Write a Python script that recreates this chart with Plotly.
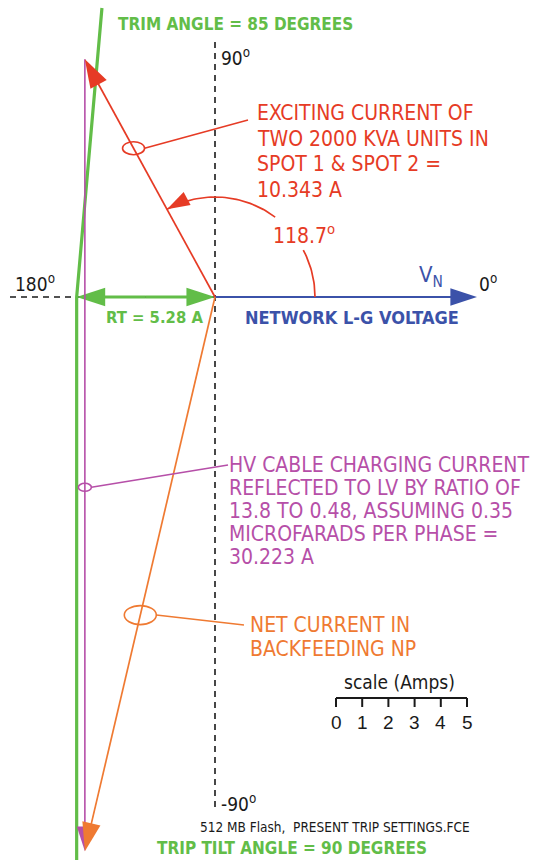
import math
import plotly.graph_objects as go

# ---------------- data (amps / degrees) ----------------
RT_AMPS = 5.28            # relay trip setting
EXC_AMPS = 10.343         # exciting current of two 2000 kVA units
EXC_ANGLE = 118.7         # degrees
CABLE_AMPS = 30.223       # HV cable charging current reflected to LV
CABLE_ANGLE = -90.0       # degrees
TRIM_ANGLE = 85.0         # degrees
TILT_ANGLE = 90.0         # degrees
VN_LENGTH = 10.0          # reference phasor length (drawing units)
SCALE_TICKS = [0, 1, 2, 3, 4, 5]

RED_LINES = ["EXCITING CURRENT OF", "TWO 2000 KVA UNITS IN", "SPOT 1 & SPOT 2 =", "10.343 A"]
PURPLE_LINES = ["HV CABLE CHARGING CURRENT", "REFLECTED TO LV BY RATIO OF",
                "13.8 TO 0.48, ASSUMING 0.35", "MICROFARADS PER PHASE =", "30.223 A"]
ORANGE_LINES = ["NET CURRENT IN", "BACKFEEDING NP"]

# ---------------- geometry / style ----------------
W, H = 543, 860
PPA = 26.2                 # pixels per amp
OX, OY = 215, 297          # origin in pixels

def dx(px):
    return (px - OX) / PPA

def dy(py):
    return (OY - py) / PPA

RED = "#e63b25"
PURPLE = "#b64fa8"
ORANGE = "#ef7a32"
BLUE = "#3b52a9"
GREEN = "#62bd48"
BLACK = "#1a1a1a"

NARROW = "Liberation Sans Narrow, Arial Narrow, DejaVu Sans Condensed, sans-serif"

exc_x = EXC_AMPS * math.cos(math.radians(EXC_ANGLE))
exc_y = EXC_AMPS * math.sin(math.radians(EXC_ANGLE))
cab_dx = CABLE_AMPS * math.cos(math.radians(CABLE_ANGLE))
cab_dy = CABLE_AMPS * math.sin(math.radians(CABLE_ANGLE))
net_x = exc_x + cab_dx
net_y = exc_y + cab_dy

fig = go.Figure()

def line(xs, ys, color, width, dash=None):
    fig.add_trace(go.Scatter(x=xs, y=ys, mode="lines",
                             line=dict(color=color, width=width, dash=dash), hoverinfo="skip"))

def vector(xs, ys, color, width, head):
    """Line whose last point carries an arrowhead oriented along the last segment."""
    n = len(xs)
    fig.add_trace(go.Scatter(
        x=xs, y=ys, mode="lines+markers", hoverinfo="skip",
        line=dict(color=color, width=width),
        marker=dict(symbol="arrow", angleref="previous", size=[0] * (n - 1) + [head],
                    color=color, opacity=1, line=dict(width=0)),
    ))

# dashed axes
line([0, 0], [dy(42), dy(812)], BLACK, 1.6, "6px,5px")
line([dx(10), 0], [0, 0], BLACK, 1.6, "6px,5px")

# trip characteristic (green)
top_y = dy(8)
trim_top_x = -RT_AMPS + top_y / math.tan(math.radians(TRIM_ANGLE))
bot_y = dy(H + 5)
tilt_bot_x = -RT_AMPS + bot_y / math.tan(math.radians(TILT_ANGLE))
line([trim_top_x, -RT_AMPS, tilt_bot_x], [top_y, 0, bot_y], GREEN, 3.2)

# RT double arrow
vector([-RT_AMPS / 2, 0], [0, 0], GREEN, 3.2, 30)
vector([-RT_AMPS / 2, -RT_AMPS], [0, 0], GREEN, 3.2, 30)

# blue network voltage
vector([0, VN_LENGTH], [0, 0], BLUE, 2.2, 28)

# purple cable current, orange net current, red exciting current
vector([exc_x, exc_x + cab_dx], [exc_y, exc_y + cab_dy], PURPLE, 1.6, 26)
vector([0, net_x], [0, net_y], ORANGE, 1.7, 30)
vector([0, exc_x], [0, exc_y], RED, 1.7, 30)

# angle arc (radius in amps), broken around its label
ARC_R = 100 / PPA
seg1 = [28 * i / 20 for i in range(21)]
seg2 = [53 + (EXC_ANGLE - 53) * i / 40 for i in range(41)]
line([ARC_R * math.cos(math.radians(a)) for a in seg1],
     [ARC_R * math.sin(math.radians(a)) for a in seg1], RED, 1.7)
vector([ARC_R * math.cos(math.radians(a)) for a in seg2],
       [ARC_R * math.sin(math.radians(a)) for a in seg2], RED, 1.7, 24)

shapes = []
ann = []

def ellipse(frac, x0, y0, vx, vy, wpx, hpx, color, lead_px):
    cx = x0 + vx * frac
    cy = y0 + vy * frac
    w = wpx / PPA / 2
    h = hpx / PPA / 2
    shapes.append(dict(type="circle", xref="x", yref="y", x0=cx - w, x1=cx + w, y0=cy - h, y1=cy + h,
                       line=dict(color=color, width=1.6)))
    shapes.append(dict(type="line", xref="x", yref="y", x0=cx + w, y0=cy, x1=dx(lead_px[0]), y1=dy(lead_px[1]),
                       line=dict(color=color, width=1.6)))

ellipse(0.626, 0, 0, exc_x, exc_y, 22, 13, RED, (248, 120))
ellipse((487 - 59) / (CABLE_AMPS * PPA), exc_x, exc_y, cab_dx, cab_dy, 13, 8, PURPLE, (228, 465))
ellipse(0.574, 0, 0, net_x, net_y, 32, 19, ORANGE, (244, 625))

# scale bar
SCALE_X0 = dx(336)
SCALE_Y = dy(698)
TICK = 9 / PPA
line([SCALE_X0 + SCALE_TICKS[0], SCALE_X0 + SCALE_TICKS[-1]], [SCALE_Y, SCALE_Y], BLACK, 2)
for t in SCALE_TICKS:
    shapes.append(dict(type="line", xref="x", yref="y", x0=SCALE_X0 + t, x1=SCALE_X0 + t,
                       y0=SCALE_Y, y1=SCALE_Y - TICK, line=dict(color=BLACK, width=2)))
    ann.append(dict(x=SCALE_X0 + t, y=dy(722), xref="x", yref="y", text=str(t), showarrow=False,
                    xanchor="center", yanchor="middle",
                    font=dict(size=19, color=BLACK, family="Arial, Liberation Sans")))

def label(px, py, text, color, size, bold=False, family=NARROW, anchor="left"):
    ann.append(dict(x=px / W, y=1 - py / H, xref="paper", yref="paper", text=text, showarrow=False,
                    xanchor=anchor, yanchor="middle",
                    font=dict(size=size, color=color, family=family, weight="bold" if bold else "normal")))

for i, t in enumerate(RED_LINES):
    label(255, [113, 139, 164, 190][i], t, RED, 21)
for i, t in enumerate(PURPLE_LINES):
    label(227, [465, 488, 511, 534, 557][i], t, PURPLE, 21)
for i, t in enumerate(ORANGE_LINES):
    label(248, [625, 649][i], t, ORANGE, 21)

label(116, 24, "TRIM ANGLE = 85 DEGREES", GREEN, 17, bold=True)
label(155, 848, "TRIP TILT ANGLE = 90 DEGREES", GREEN, 17, bold=True)
label(104, 318, "RT = 5.28 A", GREEN, 16.5, bold=True)
label(243, 318, "NETWORK L-G VOLTAGE", BLUE, 18, bold=True)
label(417, 276, "V<sub>N</sub>", BLUE, 22)
label(219, 57, "90<sup>o</sup>", BLACK, 19)
label(13, 283, "180<sup>o</sup>", BLACK, 19)
label(477, 283, "0<sup>o</sup>", BLACK, 19)
label(219, 803, "-90<sup>o</sup>", BLACK, 19)
label(271, 234, "118.7<sup>o</sup>", RED, 21)
label(342, 682, "scale (Amps)", BLACK, 19)
label(198, 827, "512 MB Flash,  PRESENT TRIP SETTINGS.FCE", BLACK, 13.5)

fig.update_layout(
    width=W, height=H, margin=dict(l=0, r=0, t=0, b=0),
    paper_bgcolor="white", plot_bgcolor="white", showlegend=False,
    xaxis=dict(range=[dx(0), dx(W)], visible=False, fixedrange=True),
    yaxis=dict(range=[dy(H), dy(0)], visible=False, fixedrange=True),
    annotations=ann, shapes=shapes,
)

fig.write_html("out.html", config={"displayModeBar": False},
               post_script="document.body.style.margin='0';document.body.style.overflow='hidden';")
